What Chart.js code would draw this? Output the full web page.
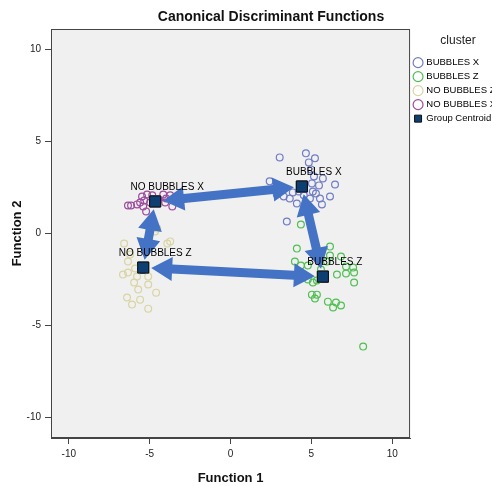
<!DOCTYPE html>
<html>
<head>
<meta charset="utf-8">
<script src="https://cdn.jsdelivr.net/npm/chart.js@4.4.0/dist/chart.umd.min.js"></script>
<style>
  html, body { margin: 0; padding: 0; background: #fff; }
  #wrap { width: 492px; height: 486px; }
</style>
</head>
<body>
<div id="wrap"><canvas id="chart"></canvas></div>
<script>
// group scores [function 1, function 2]
const bubblesX = [
  [3.04, 4.13], [4.66, 4.35], [5.22, 4.08], [4.84, 3.86], [4.97, 3.48],
  [2.42, 2.83], [6.46, 2.66], [5.71, 2.99], [5.16, 3.10], [5.03, 2.72],
  [5.47, 2.61], [6.15, 2.01], [5.53, 1.90], [5.65, 1.58], [4.91, 1.90],
  [4.10, 1.63], [3.66, 1.90], [3.29, 2.01], [3.48, 0.65], [5.09, 2.28],
  [3.85, 2.23], [4.22, 2.28], [2.86, 2.12], [4.53, 2.07], [5.28, 2.17]
];
const bubblesZ = [
  [4.10, -0.82], [6.15, -0.71], [6.15, -1.20], [6.83, -1.25], [3.98, -1.52],
  [4.35, -1.74], [4.78, -1.74], [7.14, -1.79], [7.58, -1.85], [6.58, -2.23],
  [7.14, -2.17], [7.64, -2.12], [7.64, -2.66], [4.78, -2.50], [5.09, -2.66],
  [5.34, -2.55], [5.03, -3.32], [5.34, -3.32], [5.22, -3.53], [6.02, -3.70],
  [6.52, -3.75], [6.83, -3.91], [6.34, -4.02], [8.20, -6.14], [4.35, 0.49],
  [5.59, -1.96], [5.96, -1.52]
];
const noBubblesZ = [
  [-6.58, -0.54], [-4.66, 0.11], [-3.91, -0.54], [-3.73, -0.43], [-6.34, -1.52],
  [-6.65, -2.23], [-6.34, -2.12], [-5.90, -1.90], [-5.96, -2.66], [-5.71, -3.04],
  [-5.09, -2.77], [-4.60, -3.21], [-6.40, -3.48], [-6.09, -3.86], [-5.59, -3.59],
  [-5.09, -4.08], [-5.09, -2.34], [-5.78, -2.34], [-4.53, 0.27], [-6.21, -1.14]
];
const noBubblesX = [
  [-6.34, 1.52], [-6.15, 1.52], [-5.78, 1.58], [-5.47, 2.01], [-5.16, 2.12],
  [-4.16, 2.12], [-3.73, 2.07], [-3.42, 1.96], [-4.04, 1.68], [-3.60, 1.47],
  [-5.40, 1.47], [-5.22, 1.20], [-4.47, 1.85], [-4.97, 1.68], [-5.59, 1.68],
  [-4.84, 2.07], [-5.34, 1.79], [-3.98, 1.90]
];

// group centroids
const centroidNames = ["BUBBLES X", "BUBBLES Z", "NO BUBBLES X", "NO BUBBLES Z"];
const centroidX = [4.41, 5.71, -4.66, -5.40];
const centroidY = [2.55, -2.34, 1.74, -1.85];

// arrows drawn between centroids (indexes into centroidNames)
const arrowPairs = [[2, 0], [2, 3], [3, 1], [0, 1]];

const xTicks = [-10, -5, 0, 5, 10];
const yTicks = [-10, -5, 0, 5, 10];

const FONT = "'Liberation Sans', Arial, sans-serif";

function toPoints(arr) {
  return arr.map(function (p) { return { x: p[0], y: p[1] }; });
}

function groupSet(label, arr, color) {
  return {
    label: label,
    data: toPoints(arr),
    pointStyle: "circle",
    pointRadius: 3.4,
    pointHoverRadius: 3.4,
    borderWidth: 1.2,
    borderColor: color,
    backgroundColor: "rgba(0,0,0,0)"
  };
}

// background, frame, arrows, centroid labels and title
const decorPlugin = {
  id: "decor",
  beforeDraw: function (chart) {
    const a = chart.chartArea, ctx = chart.ctx;
    ctx.save();
    ctx.fillStyle = "#f0f0f0";
    ctx.fillRect(a.left, a.top, a.right - a.left, a.bottom - a.top);
    ctx.restore();
  },
  afterDatasetsDraw: function (chart) {
    const ctx = chart.ctx, xs = chart.scales.x, ys = chart.scales.y;
    const px = centroidX.map(function (v) { return xs.getPixelForValue(v); });
    const py = centroidY.map(function (v) { return ys.getPixelForValue(v); });

    ctx.save();
    ctx.fillStyle = "#4472c4";
    arrowPairs.forEach(function (pr) {
      let x1 = px[pr[0]], y1 = py[pr[0]], x2 = px[pr[1]], y2 = py[pr[1]];
      const len = Math.hypot(x2 - x1, y2 - y1);
      const ux = (x2 - x1) / len, uy = (y2 - y1) / len;
      const nx = -uy, ny = ux;
      const trim = 8, head = 21, hw = 12, sw = 4.5;
      x1 += ux * trim; y1 += uy * trim; x2 -= ux * trim; y2 -= uy * trim;
      const pts = [
        [x1, y1],
        [x1 + ux * head + nx * hw, y1 + uy * head + ny * hw],
        [x1 + ux * head + nx * sw, y1 + uy * head + ny * sw],
        [x2 - ux * head + nx * sw, y2 - uy * head + ny * sw],
        [x2 - ux * head + nx * hw, y2 - uy * head + ny * hw],
        [x2, y2],
        [x2 - ux * head - nx * hw, y2 - uy * head - ny * hw],
        [x2 - ux * head - nx * sw, y2 - uy * head - ny * sw],
        [x1 + ux * head - nx * sw, y1 + uy * head - ny * sw],
        [x1 + ux * head - nx * hw, y1 + uy * head - ny * hw]
      ];
      ctx.beginPath();
      ctx.moveTo(pts[0][0], pts[0][1]);
      for (let i = 1; i < pts.length; i++) ctx.lineTo(pts[i][0], pts[i][1]);
      ctx.closePath();
      ctx.fill();
    });

    // centroid squares on top of the arrows
    const meta = chart.getDatasetMeta(4);
    meta.data.forEach(function (el) { el.draw(ctx, chart.chartArea); });

    ctx.fillStyle = "#000";
    ctx.font = "10px " + FONT;
    ctx.textAlign = "center";
    ctx.textBaseline = "middle";
    centroidNames.forEach(function (n, i) {
      ctx.fillText(n, px[i] + 12, py[i] - 14);
    });
    ctx.restore();
  },
  afterDraw: function (chart) {
    const a = chart.chartArea, ctx = chart.ctx;
    ctx.save();
    ctx.strokeStyle = "#444";
    ctx.lineWidth = 1;
    ctx.strokeRect(a.left + 0.5, a.top + 0.5, a.right - a.left - 1, a.bottom - a.top - 1);
    ctx.fillStyle = "#111";
    ctx.font = "bold 14px " + FONT;
    ctx.textAlign = "center";
    ctx.textBaseline = "middle";
    ctx.fillText("Canonical Discriminant Functions", 271, 17);
    ctx.restore();
  }
};

const ctx = document.getElementById("chart").getContext("2d");
new Chart(ctx, {
  type: "scatter",
  data: {
    datasets: [
      groupSet("BUBBLES X", bubblesX, "#6f7cc6"),
      groupSet("BUBBLES Z", bubblesZ, "#4fbf52"),
      groupSet("NO BUBBLES Z", noBubblesZ, "#d9d4a2"),
      groupSet("NO BUBBLES X", noBubblesX, "#9c4c9c"),
      {
        label: "Group Centroid",
        data: centroidX.map(function (v, i) { return { x: v, y: centroidY[i] }; }),
        pointStyle: "rect",
        pointRadius: 7.8,
        pointHoverRadius: 7.8,
        borderWidth: 1,
        borderColor: "#111",
        backgroundColor: "#0d3f73"
      }
    ]
  },
  options: {
    responsive: true,
    maintainAspectRatio: false,
    animation: false,
    events: [],
    layout: { padding: { top: 29, right: -14, left: 0, bottom: 0 } },
    plugins: {
      tooltip: { enabled: false },
      title: { display: false },
      legend: {
        position: "right",
        align: "start",
        title: {
          display: true,
          text: "cluster",
          color: "#222",
          font: { family: FONT, size: 12 },
          padding: { top: 6, bottom: 4 }
        },
        labels: {
          usePointStyle: true,
          boxWidth: 7,
          boxHeight: 7,
          padding: 4.5,
          color: "#000",
          font: { family: FONT, size: 9.5 }
        }
      }
    },
    scales: {
      x: {
        type: "linear",
        min: -11.1,
        max: 11.1,
        afterFit: function (s) { s.height = 48; },
        afterBuildTicks: function (s) { s.ticks = xTicks.map(function (v) { return { value: v }; }); },
        ticks: { color: "#222", font: { family: FONT, size: 10 }, padding: 4, includeBounds: false },
        grid: { display: true, drawOnChartArea: false, drawTicks: true, tickLength: 6, color: "#444" },
        border: { display: true, color: "#444" },
        title: {
          display: true,
          text: "Function 1",
          color: "#111",
          font: { family: FONT, size: 13, weight: "bold" },
          padding: { top: 8, bottom: 0 }
        }
      },
      y: {
        type: "linear",
        min: -11.1,
        max: 11.1,
        afterFit: function (s) { s.width = 51; },
        afterBuildTicks: function (s) { s.ticks = yTicks.map(function (v) { return { value: v }; }); },
        ticks: { color: "#222", font: { family: FONT, size: 10 }, padding: 4, includeBounds: false },
        grid: { display: true, drawOnChartArea: false, drawTicks: true, tickLength: 6, color: "#444" },
        border: { display: true, color: "#444" },
        title: {
          display: true,
          text: "Function 2",
          color: "#111",
          font: { family: FONT, size: 13, weight: "bold" },
          padding: { top: 10, bottom: 0 }
        }
      }
    }
  },
  plugins: [decorPlugin]
});
</script>
</body>
</html>
